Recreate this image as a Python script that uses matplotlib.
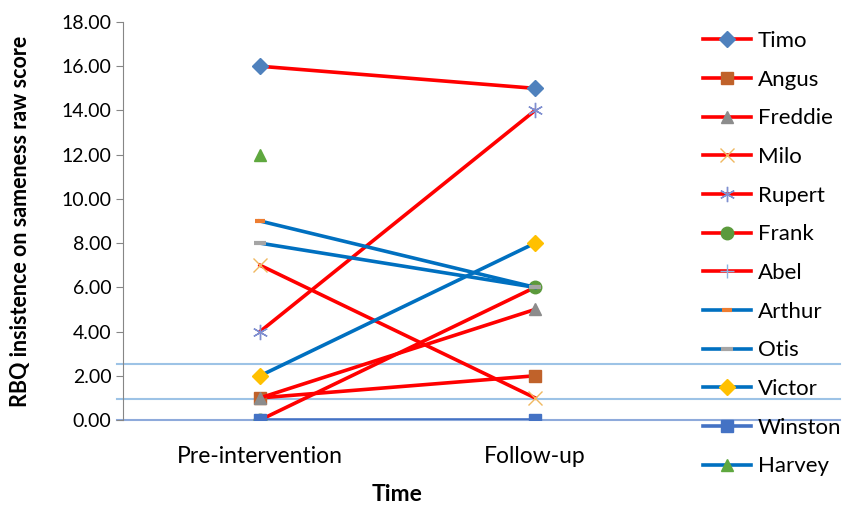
import numpy as np
import matplotlib
matplotlib.use("Agg")
import matplotlib.pyplot as plt
import matplotlib.transforms as mtransforms

plt.rcParams["font.family"] = ["Lato", "DejaVu Sans"]

# ── Data ──────────────────────────────────────────────────
times = ["Pre-intervention", "Follow-up"]
names = ["Timo", "Angus", "Freddie", "Milo", "Rupert", "Frank", "Abel",
         "Arthur", "Otis", "Victor", "Winston", "Harvey"]
pre    = [16, 1, 1, 7, 4, 0, np.nan, 9, 8, 2, 0, 12]
follow = [15, 2, 5, 1, 14, 6, np.nan, 6, 6, 8, 0, np.nan]
ref_levels = [2.55, 0.95, 0.0]
yticks = np.arange(0, 18.01, 2)

# ── Styles ────────────────────────────────────────────────
RED, BLUE, WBLUE = "#FF0000", "#0070C0", "#4472C4"
line_colors = [RED] * 7 + [BLUE, BLUE, BLUE, WBLUE, BLUE]
markers = [
    dict(marker="D", color="#4F81BD", ms=8),
    dict(marker="s", color="#C0622A", ms=9),
    dict(marker="^", color="#8C8C8C", ms=9),
    dict(marker="x", color="#F0B860", ms=10, mew=1),
    dict(marker=(6, 2, 0), color="#7F8FD0", ms=11, mew=1),
    dict(marker="o", color="#5B9A3C", ms=9),
    dict(marker="+", color="#8DB4E2", ms=10, mew=1),
    dict(marker="_", color="#ED7D31", ms=7, mew=3),
    dict(marker="_", color="#A5A5A5", ms=9, mew=3),
    dict(marker="D", color="#FFC000", ms=8),
    dict(marker="s", color="#4472C4", ms=9),
    dict(marker="^", color="#5FA83F", ms=9),
]

fig = plt.figure(figsize=(8.48, 5.05), dpi=100)
ax = fig.add_axes([0.1445, 0.1683, 0.6486, 0.7881])

# light reference lines running across the whole figure
trans = mtransforms.blended_transform_factory(fig.transFigure, ax.transData)
for lvl, c in zip(ref_levels, ["#9DC3E6", "#9DC3E6", "#8EAADB"]):
    ax.plot([0.138, 0.99], [lvl, lvl], color=c, lw=1.5, transform=trans,
            clip_on=False, zorder=1)

x = np.arange(len(times))
for i, name in enumerate(names):
    m = markers[i]
    ax.plot(x, [pre[i], follow[i]], color=line_colors[i], lw=2.6,
            marker=m["marker"], ms=m["ms"], mfc=m["color"], mec=m["color"],
            mew=m.get("mew", 1), label=name, zorder=3)

ax.set_xlim(-0.5, 1.5)
ax.set_ylim(0, 18)
ax.set_yticks(yticks)
ax.set_yticklabels([f"{v:.2f}" for v in yticks], fontsize=14)
ax.set_xticks(x)
ax.set_xticklabels(times, fontsize=16.5)
ax.tick_params(axis="x", length=0, pad=19)
ax.tick_params(axis="y", length=5, color="#868686", pad=3)
for s in ["top", "right", "bottom"]:
    ax.spines[s].set_visible(False)
ax.spines["left"].set_color("#868686")

ax.set_xlabel("Time", fontsize=16.5, fontweight="bold", labelpad=12)
ax.set_ylabel("RBQ insistence on sameness raw score", fontsize=15.5,
              fontweight="bold", labelpad=22)

ax.legend(loc="upper left", bbox_to_anchor=(0.818, 0.956),
          bbox_transform=fig.transFigure, frameon=False, fontsize=16,
          handlelength=2.2, labelspacing=0.84, handletextpad=0.3,
          borderaxespad=0)

fig.savefig("out.png", dpi=100)
